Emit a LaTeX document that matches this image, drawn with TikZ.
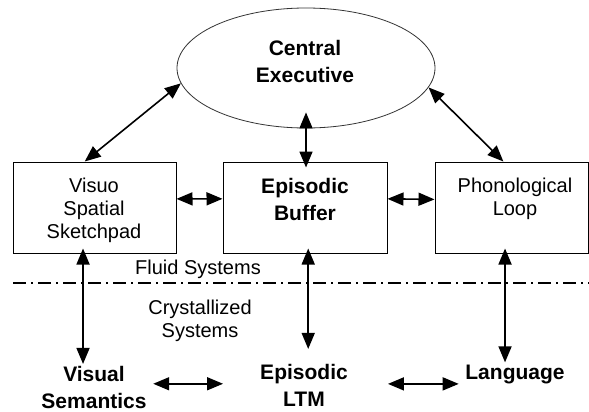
\documentclass[tikz,border=0pt]{standalone}
\usepackage{fontspec}
\setmainfont{Liberation Sans}
\usetikzlibrary{arrows.meta,shapes.geometric}
\begin{document}
\begin{tikzpicture}[x=1pt, y=-1pt,
  box/.style={draw, line width=1pt, minimum height=91pt},
  txt/.style={align=center, inner sep=2pt, font=\fontsize{20}{23}\selectfont},
  btxt/.style={align=center, inner sep=2pt, font=\fontsize{21}{27.5}\selectfont\bfseries},
  biarrow/.style={line width=1.6pt, {Triangle[length=16pt,width=13pt]}-{Triangle[length=16pt,width=13pt]}}]
\useasboundingbox (0,0) rectangle (589,412);
\node[ellipse, draw, black!80, line width=0.8pt, minimum width=258pt, minimum height=120pt] (ce) at (306,68){};
\node[btxt] (cet) at (305,61.6){Central\\Executive};
\node[box, minimum width=163pt] (vss) at (94.5,207.5){};
\node[txt] (vsst) at (94,210.5){Visuo\\Spatial\\Sketchpad};
\node[box, minimum width=164pt] (eb) at (305,207.5){};
\node[btxt] (ebt) at (305,199.6){Episodic\\Buffer};
\node[box, minimum width=153pt] (pl) at (511.5,207.5){};
\node[txt] (plt) at (515,198.8){Phonological\\Loop};
\node[txt] (fs) at (198,269){Fluid Systems};
\node[txt] (cs) at (200,320.5){Crystallized\\Systems};
\node[btxt] (vs) at (94,387.6){Visual\\Semantics};
\node[btxt] (el) at (304,385.5){Episodic\\LTM};
\node[btxt] (lang) at (515,374){Language};
% fluid / crystallized border
\draw[line width=1.8pt, dash pattern=on 13pt off 5pt on 2pt off 5pt] (13,283) -- (589,283);
\draw[biarrow] (ce.187) -- (vss.102);
\draw[biarrow, shorten <=-16pt, shorten >=-6pt] (ce.south) -- (ce.south |- eb.north);
\draw[biarrow] (ce.351) -- (pl.100);
\draw[biarrow] (vss.6) -- (eb.174);
\draw[biarrow] (eb.6) -- (pl.174);
\draw[biarrow, shorten <=-5pt] (vss.256) -- (vss.256 |- vs.north);
\draw[biarrow, shorten <=-5pt, shorten >=13pt] (eb.274) -- (eb.274 |- el.north);
\draw[biarrow, shorten <=-5pt] (pl.262) -- (pl.262 |- lang.north);
\draw[biarrow, shorten <=4.5pt, shorten >=35pt] (vs.4) -- (vs.4 -| el.west);
\draw[biarrow, shorten <=38pt, shorten >=4.5pt] (el.2) -- (el.2 -| lang.west);
\end{tikzpicture}
\end{document}
